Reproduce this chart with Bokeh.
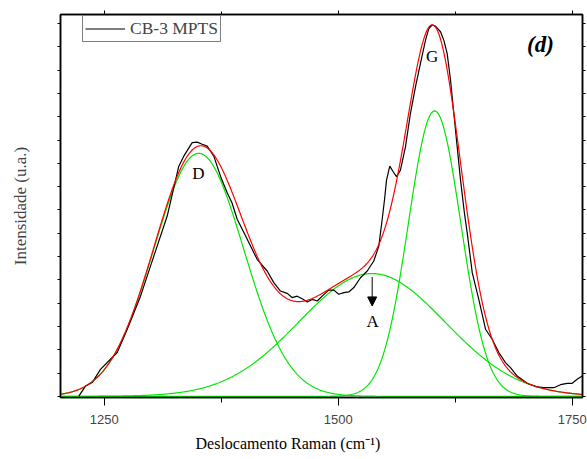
import numpy as np
from bokeh.plotting import figure
from bokeh.models import (Range1d, LinearAxis, FixedTicker, Legend, LegendItem,
                          Label, Arrow, NormalHead, Title)
from bokeh.embed import file_html
from bokeh.resources import INLINE

# Measured Raman spectrum of CB-3 MPTS
raman_shift = [1222.9, 1230.0, 1237.2, 1246.0, 1256.7, 1263.9, 1274.6, 1288.8, 1303.0, 1317.3,
               1329.7, 1335.0, 1344.0, 1349.3, 1354.7, 1360.0, 1367.1, 1374.2, 1381.4, 1386.5,
               1392.1, 1402.8, 1413.4, 1424.1, 1431.2, 1438.3, 1445.5, 1450.8, 1456.2, 1461.5,
               1466.9, 1472.2, 1477.6, 1482.9, 1489.9, 1495.3, 1500.6, 1506.0, 1511.3, 1516.7,
               1523.8, 1531.0, 1538.0, 1543.4, 1547.0, 1549.5, 1551.6, 1555.1, 1558.7, 1562.3,
               1566.5, 1571.9, 1577.2, 1582.6, 1587.9, 1593.3, 1596.8, 1600.4, 1603.9, 1609.3,
               1612.8, 1616.4, 1620.0, 1623.5, 1627.1, 1630.7, 1634.9, 1637.8, 1643.2, 1650.2,
               1657.4, 1664.5, 1671.6, 1678.7, 1684.1, 1691.2, 1701.9, 1710.8, 1719.6, 1730.3,
               1737.5, 1744.6, 1750.0, 1755.3, 1760.7]
intensity = [0.01, 0.44, 0.59, 1.16, 1.59, 1.88, 2.88, 4.30, 6.02, 7.74,
             9.88, 10.31, 10.89, 10.91, 10.82, 10.74, 10.31, 9.45, 8.74, 8.31,
             7.60, 6.74, 5.88, 5.38, 4.88, 4.52, 4.42, 4.24, 4.30, 4.19,
             4.05, 4.16, 4.09, 4.30, 4.56, 4.56, 4.38, 4.45, 4.48, 4.67,
             5.09, 5.38, 5.81, 6.45, 7.60, 8.45, 9.28, 9.88, 9.64, 9.43,
             9.71, 10.72, 12.15, 13.29, 14.29, 15.29, 15.79, 15.94, 15.89, 15.65,
             15.29, 14.72, 13.58, 12.15, 10.72, 9.28, 7.85, 7.03, 5.31, 4.16,
             2.88, 2.45, 1.88, 1.45, 1.23, 0.87, 0.56, 0.42, 0.37, 0.37,
             0.50, 0.56, 0.56, 0.73, 0.87]

# Gaussian bands of the deconvolution
band_names = ["D", "A", "G"]
band_centers = [1351.0, 1536.0, 1603.0]
band_heights = [10.43, 5.27, 12.25]
band_sigmas = [48.0, 78.0, 28.0]

x_ticks = [1250, 1500, 1750]
x_minor_ticks = [1375, 1625]
y_ticks = list(range(0, 17))

X_MIN, X_MAX = 1203.3, 1761.0
Y_MIN, Y_MAX = -0.05, 16.39

SERIF = "Liberation Serif"
SANS = "Liberation Sans"

p = figure(width=587, height=459, output_backend="svg", toolbar_location=None,
           x_range=Range1d(X_MIN, X_MAX), y_range=Range1d(Y_MIN, Y_MAX),
           x_axis_type=None, y_axis_type=None,
           min_border_left=60, min_border_right=5, min_border_top=14, min_border_bottom=62,
           background_fill_color="white", border_fill_color="white")
p.outline_line_color = "black"
p.outline_line_width = 1.5

x_ticker = FixedTicker(ticks=x_ticks, minor_ticks=x_minor_ticks)
y_ticker = FixedTicker(ticks=y_ticks)


def blank(ticks):
    # tick marks only, no tick labels
    return {t: "" for t in ticks}


bottom = LinearAxis(ticker=x_ticker,
                    major_tick_out=8, major_tick_in=0, minor_tick_out=5, minor_tick_in=0,
                    major_label_text_font=SANS, major_label_text_font_size="13px",
                    major_label_standoff=9, axis_line_width=1.5)
top = LinearAxis(ticker=x_ticker, major_tick_out=4, major_tick_in=0,
                 minor_tick_out=3, minor_tick_in=0,
                 major_label_overrides=blank(x_ticks),
                 major_label_text_font_size="1px", major_label_standoff=0,
                 axis_line_width=1.5)
left = LinearAxis(ticker=y_ticker, axis_label="Intensidade (u.a.)",
                  major_tick_out=3, major_tick_in=0, minor_tick_out=0, minor_tick_in=0,
                  major_label_overrides=blank(y_ticks),
                  major_label_text_font_size="1px", major_label_standoff=0,
                  axis_label_text_font=SERIF, axis_label_text_font_size="17px",
                  axis_label_text_font_style="normal", axis_label_standoff=28,
                  axis_line_width=1.5)
right = LinearAxis(ticker=y_ticker, major_tick_out=3, major_tick_in=0,
                   minor_tick_out=0, minor_tick_in=0,
                   major_label_overrides=blank(y_ticks),
                   major_label_text_font_size="1px", major_label_standoff=0,
                   axis_line_width=1.5)
p.add_layout(bottom, "below")
p.add_layout(top, "above")
p.add_layout(left, "left")
p.add_layout(right, "right")

# x-axis title, set a little left of the frame centre
p.add_layout(Title(text="Deslocamento Raman (cm\u207b\u00b9)", align="left", offset=135,
                   standoff=12, text_font=SERIF, text_font_size="16px",
                   text_font_style="normal", text_color="black"), "below")

# Fitted components and their sum
grid = np.linspace(X_MIN, X_MAX, 700)
fit = np.zeros_like(grid)
for c, h, s in zip(band_centers, band_heights, band_sigmas):
    band = h * np.exp(-(grid - c) ** 2 / (2 * s ** 2))
    fit += band
    p.line(grid, band, color="#00e600", line_width=1.2)

spectrum = p.line(raman_shift, intensity, color="black", line_width=1.2)
p.line(grid, fit, color="#ff0000", line_width=1.2)

legend = Legend(items=[LegendItem(label="CB-3 MPTS", renderers=[spectrum])],
                location=(22, 355), orientation="vertical",
                label_text_font=SERIF, label_text_font_size="17.5px",
                label_text_baseline="middle", label_standoff=5,
                glyph_width=40, glyph_height=17, label_height=17,
                padding=2, spacing=0, margin=0,
                border_line_color="black", border_line_width=1,
                background_fill_color="white", background_fill_alpha=1.0)
p.add_layout(legend, "center")

# Band labels
label_pos = {"D": (1350.7, 9.56), "G": (1600.4, 14.58), "A": (1536.9, 3.21)}
for name in band_names:
    lx, ly = label_pos[name]
    p.add_layout(Label(x=lx, y=ly, text=name, text_align="center", text_baseline="middle",
                       text_font=SERIF, text_font_size="17px", text_color="black"))

p.add_layout(Arrow(end=NormalHead(size=9, fill_color="black", line_color="black", line_width=1),
                   x_start=1536.3, y_start=5.12, x_end=1536.3, y_end=3.88,
                   line_color="black", line_width=1))

p.add_layout(Label(x=1716.0, y=15.1, text="(d)", text_align="center", text_baseline="middle",
                   text_font=SERIF, text_font_size="23px", text_font_style="bold italic",
                   text_color="black"))

open("out.html", "w").write(file_html(p, INLINE))
